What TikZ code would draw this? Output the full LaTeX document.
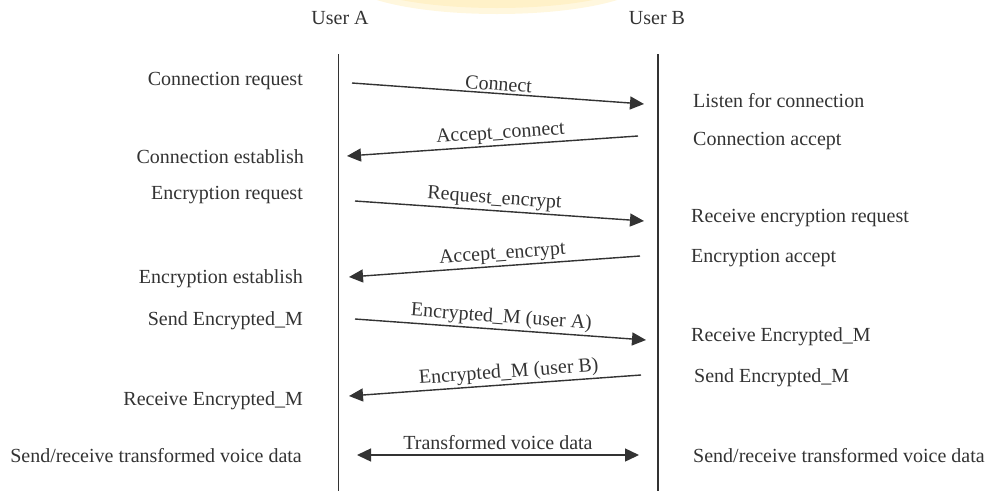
\documentclass[tikz,border=0pt]{standalone}
\usepackage{fontspec}
\setmainfont{Liberation Serif}
\usetikzlibrary{arrows.meta}
\definecolor{ink}{HTML}{333333}
\definecolor{glow}{HTML}{FFF1C8}
\begin{document}
\begin{tikzpicture}[x=1pt,y=-1pt,
  every node/.style={text=ink,font=\fontsize{20}{24}\selectfont,inner sep=1pt},
  lifeline/.style={draw=ink,line width=1.6pt},
  msg/.style={draw=ink,line width=1.4pt,-{Triangle[length=14pt,width=13pt]}},
  both/.style={draw=ink,line width=1.4pt,{Triangle[length=14pt,width=13pt]}-{Triangle[length=14pt,width=13pt]}},
  lefttxt/.style={anchor=east},
  righttxt/.style={anchor=west},
  lbl/.style={midway,above=1pt,sloped}]
\useasboundingbox (0,0) rectangle (992,491);
% soft glow at the top edge
\begin{scope}
\clip (0,0) rectangle (992,491);
\fill[glow!60] (497,-22) ellipse [x radius=152pt, y radius=36pt];
\fill[glow] (497,-24) ellipse [x radius=145pt, y radius=32pt];
\end{scope}

% participants and lifelines
\node (ua) at (340,18) {User A};
\node (ub) at (657,18) {User B};
\coordinate (at) at (338.5,54);
\coordinate (ab) at (338.5,491);
\coordinate (bt) at (658,54);
\coordinate (bb) at (658,491);
\draw[lifeline] (at) -- (ab);
\draw[lifeline] (bt) -- (bb);

% message end points
\coordinate (m1s) at (352,83);  \coordinate (m1e) at (644,104);
\coordinate (m2s) at (638,136); \coordinate (m2e) at (347,156);
\coordinate (m3s) at (355,201); \coordinate (m3e) at (644,221);
\coordinate (m4s) at (640,256); \coordinate (m4e) at (349,277);
\coordinate (m5s) at (355,319); \coordinate (m5e) at (646,340);
\coordinate (m6s) at (641,375); \coordinate (m6e) at (349,396);
\coordinate (m7s) at (357,455); \coordinate (m7e) at (639,455);

% messages
\draw[msg] (m1s) -- node[lbl] {Connect} (m1e);
\draw[msg] (m2s) -- node[lbl,pos=0.47] {Accept\_connect} (m2e);
\draw[msg] (m3s) -- node[lbl,pos=0.48] {Request\_encrypt} (m3e);
\draw[msg] (m4s) -- node[lbl,pos=0.47] {Accept\_encrypt} (m4e);
\draw[msg] (m5s) -- node[lbl] {Encrypted\_M (user A)} (m5e);
\draw[msg] (m6s) -- node[lbl,pos=0.45] {Encrypted\_M (user B)} (m6e);
\draw[both] (m7s) -- node[above=4pt] {Transformed voice data} (m7e);

% actions of user A
\node[lefttxt] (la1) at (304,81)  {Connection request};
\node[lefttxt] (la2) at (305,157) {Connection establish};
\node[lefttxt] (la3) at (304,195) {Encryption request};
\node[lefttxt] (la4) at (304,279) {Encryption establish};
\node[lefttxt] (la5) at (304,321) {Send Encrypted\_M};
\node[lefttxt] (la6) at (304,401) {Receive Encrypted\_M};
\node[lefttxt] (la7) at (303,456) {Send/receive transformed voice data};

% actions of user B
\node[righttxt] (rb1) at (692,101) {Listen for connection};
\node[righttxt] (rb2) at (692,141) {Connection accept};
\node[righttxt] (rb3) at (690,218) {Receive encryption request};
\node[righttxt] (rb4) at (690,258) {Encryption accept};
\node[righttxt] (rb5) at (690,337) {Receive Encrypted\_M};
\node[righttxt] (rb6) at (693,378) {Send Encrypted\_M};
\node[righttxt] (rb7) at (692,456) {Send/receive transformed voice data};
\end{tikzpicture}
\end{document}
